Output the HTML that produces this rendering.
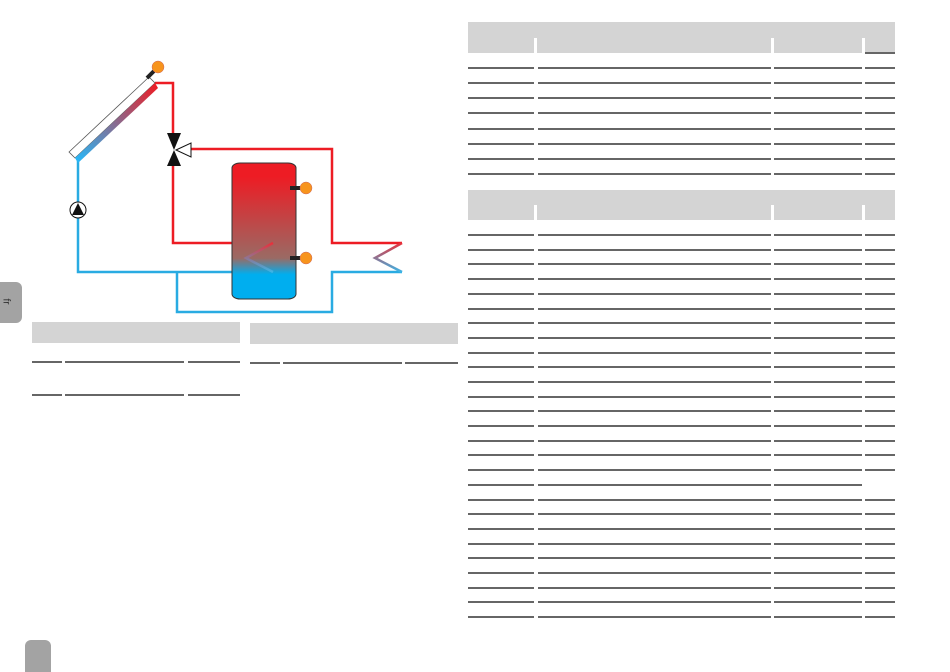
<!DOCTYPE html>
<html><head><style>
body{margin:0;width:950px;height:670px;background:#fff;position:relative;overflow:hidden;font-family:"Liberation Sans",sans-serif}
.a{position:absolute}
.h{position:absolute;background:#d4d4d4}
.l{position:absolute;height:2px;background:#666}
</style></head><body>
<div class="a" style="left:0;top:282px;width:22px;height:41px;background:#a3a3a3;border-radius:0 6px 6px 0"></div>
<div class="a" style="left:3px;top:296px;font-size:10px;color:#333;transform:rotate(90deg)">fr</div>
<div class="a" style="left:25px;top:640px;width:26px;height:32px;background:#a3a3a3;border-radius:6px 6px 0 0"></div>

<svg class="a" style="left:0;top:0" width="470" height="330">
<defs>
<linearGradient id="tk" x1="0" y1="0" x2="0" y2="1"><stop offset="0.1" stop-color="#ed1c24"/><stop offset="0.7" stop-color="#9a6a64"/><stop offset="0.82" stop-color="#00aeef"/></linearGradient>
<linearGradient id="cl" gradientUnits="userSpaceOnUse" x1="156" y1="84" x2="77" y2="160"><stop offset="0" stop-color="#ed1c24"/><stop offset="1" stop-color="#29b6f6"/></linearGradient>
<linearGradient id="cz" x1="0" y1="0" x2="0" y2="1"><stop offset="0" stop-color="#e8303a"/><stop offset="1" stop-color="#3cb4e6"/></linearGradient>
</defs>
<g fill="none" stroke-width="2.5">
<polyline stroke="#29abe2" points="78,160 78,272 273,272"/>
<polyline stroke="#29abe2" points="402,272 332,272 332,312 177,312 177,272"/>
<polyline stroke="#ed1c24" points="155,83 173,83 173,140"/>
<polyline stroke="#ed1c24" points="173,160 173,243 273,243"/>
<polyline stroke="#ed1c24" points="191,149 332,149 332,243 402,243"/>
</g>
<rect x="232" y="163" width="64" height="136" rx="8" ry="5" fill="url(#tk)" stroke="#333" stroke-width="1"/>
<polyline fill="none" stroke="url(#cz)" stroke-width="2.5" points="273,243 246,258 273,272"/>
<polyline fill="none" stroke="url(#cz)" stroke-width="2.5" points="402,243 375,258 402,272"/>
<polygon points="69,152 149,77 155,83 75,158" fill="#fff" stroke="#555" stroke-width="0.8"/>
<polygon points="75,158 155,83 158,88 78,163" fill="url(#cl)"/>
<line x1="147" y1="78" x2="154" y2="71" stroke="#222" stroke-width="4"/>
<circle cx="158" cy="67" r="6" fill="#f7941d" stroke="#c66" stroke-width="0.5"/>
<polygon points="167,133 181,133 174,150" fill="#111"/>
<polygon points="167,166 181,166 174,150" fill="#111"/>
<polygon points="176,150 191,143 191,157" fill="#fff" stroke="#111" stroke-width="1"/>
<circle cx="78" cy="210" r="8" fill="#fff" stroke="#111" stroke-width="1"/>
<polygon points="78,203 72,215 84,215" fill="#111"/>
<rect x="290" y="186" width="10" height="4" fill="#222"/>
<circle cx="306" cy="188" r="6" fill="#f7941d" stroke="#c66" stroke-width="0.5"/>
<rect x="290" y="256" width="10" height="4" fill="#222"/>
<circle cx="306" cy="258" r="6" fill="#f7941d" stroke="#c66" stroke-width="0.5"/>
</svg>

<div class="h" style="left:32px;top:322px;width:208px;height:21px"></div>
<div class="l" style="left:32px;top:361px;width:30px"></div><div class="l" style="left:65px;top:361px;width:119px"></div><div class="l" style="left:188px;top:361px;width:52px"></div>
<div class="l" style="left:32px;top:394px;width:30px"></div><div class="l" style="left:65px;top:394px;width:119px"></div><div class="l" style="left:188px;top:394px;width:52px"></div>
<div class="h" style="left:250px;top:323px;width:208px;height:21px"></div>
<div class="l" style="left:250px;top:362px;width:30px"></div><div class="l" style="left:283px;top:362px;width:119px"></div><div class="l" style="left:405px;top:362px;width:53px"></div>

<div class="h" style="left:468px;top:22px;width:427px;height:16px"></div>
<div class="h" style="left:468px;top:38px;width:66px;height:15px"></div>
<div class="h" style="left:537px;top:38px;width:234px;height:15px"></div>
<div class="h" style="left:774px;top:38px;width:88px;height:15px"></div>
<div class="h" style="left:865px;top:38px;width:30px;height:15px"></div>
<div class="l" style="left:865px;top:52px;width:30px"></div>

<div class="h" style="left:468px;top:190px;width:427px;height:15px"></div>
<div class="h" style="left:468px;top:205px;width:66px;height:15px"></div>
<div class="h" style="left:537px;top:205px;width:234px;height:15px"></div>
<div class="h" style="left:774px;top:205px;width:88px;height:15px"></div>
<div class="h" style="left:865px;top:205px;width:30px;height:15px"></div>

<div id="rows"></div>
<script>
var ys1=[67,82,97,112,128,143,158,173];
var ys2=[234,249,263,278,293,308,322,337,352,366,381,396,410,425,440,454,469,484,499,513,528,543,557,572,587,601,616];
var h='';
function row(y,last){h+='<div class="l" style="left:468px;top:'+y+'px;width:66px"></div><div class="l" style="left:538px;top:'+y+'px;width:233px"></div><div class="l" style="left:774px;top:'+y+'px;width:88px"></div>';if(last)h+='<div class="l" style="left:865px;top:'+y+'px;width:30px"></div>';}
ys1.forEach(function(y){row(y,true)});
ys2.forEach(function(y,i){row(y,i!=17)});
document.getElementById('rows').innerHTML=h;
</script>
</body></html>
